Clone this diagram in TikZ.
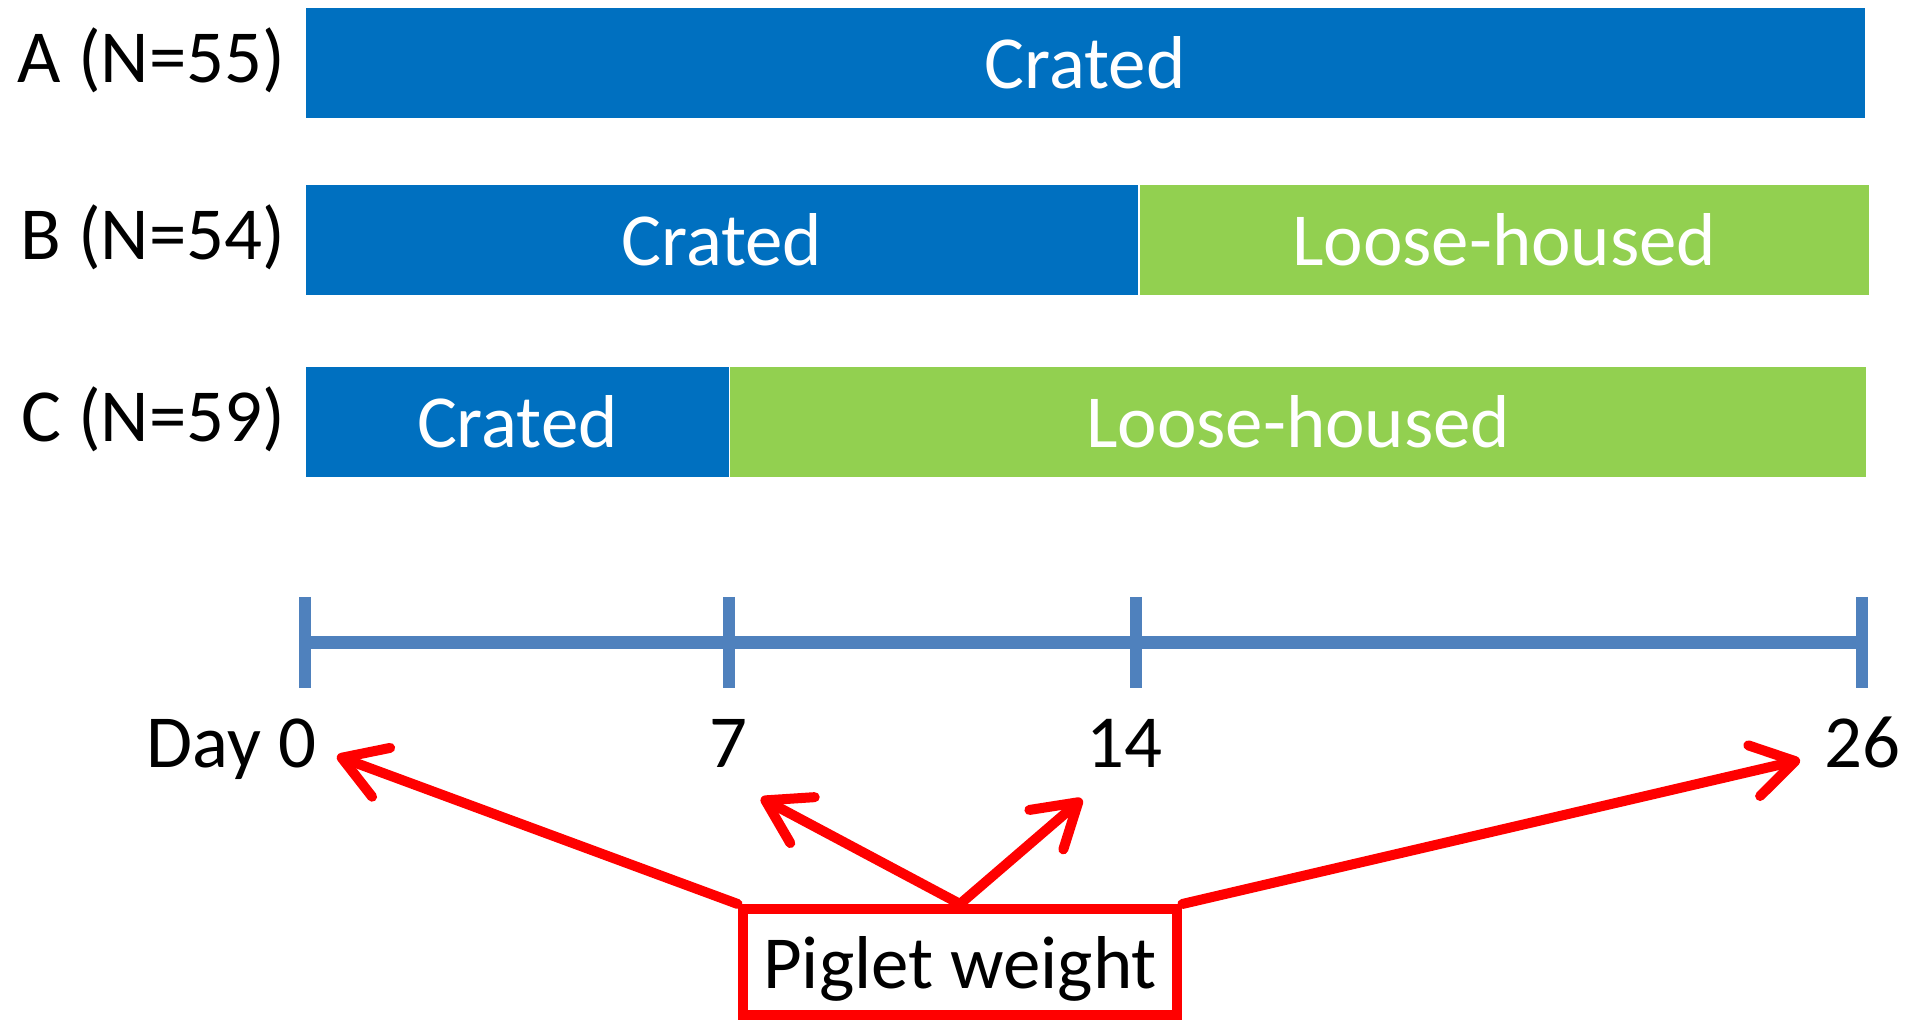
\documentclass[tikz,border=0pt]{standalone}
\usepackage{fontspec}
\setmainfont{Carlito}
\usetikzlibrary{positioning,arrows.meta}
\definecolor{crblue}{HTML}{0070C0}
\definecolor{lhgreen}{HTML}{92D050}
\definecolor{axblue}{HTML}{4F81BD}

\begin{document}
\begin{tikzpicture}[x=0.01cm,y=-0.01cm]
        \tikzstyle{every node}=[font=\fontsize{21.3}{25}\selectfont,inner sep=0pt]
        \tikzstyle{bar}=[rectangle,minimum height=1.1cm,text=white,anchor=north west]
        \tikzstyle{crated}=[bar,fill=crblue]
        \tikzstyle{loose}=[bar,fill=lhgreen]
        \tikzstyle{axis}=[draw=axblue,line width=0.13cm]
        \tikzstyle{tick}=[draw=axblue,line width=0.12cm]
        \tikzstyle{wt}=[draw=red,line width=0.1cm,line cap=round,-{Straight Barb[length=0.42cm,width=0.52cm,round]}]
        \useasboundingbox (0,0) rectangle (1924,1021);

        \node[crated,minimum width=15.58cm] (ba) at (305,7) {Crated};
        \node[crated,minimum width=8.32cm] (bb) at (305,184) {Crated};
        \node[loose,minimum width=7.29cm,right=0pt of bb] (bbl) {Loose-housed};
        \node[crated,minimum width=4.23cm] (bc) at (305,366) {Crated};
        \node[loose,minimum width=11.35cm,right=0pt of bc] (bcl) {Loose-housed};

        \node[left=0.19cm of ba,yshift=0.02cm] (na) {A (N=55)};
        \node[left=0.19cm of bb,yshift=0.02cm] (nb) {B (N=54)};
        \node[left=0.19cm of bc,yshift=0.02cm] (nc) {C (N=59)};

        \coordinate (t0) at (304.5,642.5);
        \coordinate (t7) at (728.5,642.5);
        \coordinate (t14) at (1136,642.5);
        \coordinate (t26) at (1862,642.5);
        \draw[axis] (t0) -- (t26);
        \foreach \t in {t0,t7,t14,t26}
                \draw[tick] ([yshift=0.455cm]\t) -- ([yshift=-0.455cm]\t);

        \node[anchor=base east] (d0) at (317,767) {Day 0};
        \node[anchor=base] (d7) at (728,767) {7};
        \node[anchor=base] (d14) at (1124,767) {14};
        \node[anchor=base] (d26) at (1862,767) {26};

        \node[draw=red,line width=0.1cm,minimum width=4.345cm,minimum height=1.06cm,
                text height=0.52cm,text depth=0cm] (pw) at (960,962) {Piglet weight};

        \coordinate (w0) at (337,756);
        \coordinate (w7) at (761,798);
        \coordinate (w14) at (1082,799);
        \coordinate (w26) at (1800,760);
        \draw[wt] (pw.north west) -- (w0);
        \draw[wt] (pw.north) -- (w7);
        \draw[wt] (pw.north) -- (w14);
        \draw[wt] (pw.north east) -- (w26);
\end{tikzpicture}
\end{document}
